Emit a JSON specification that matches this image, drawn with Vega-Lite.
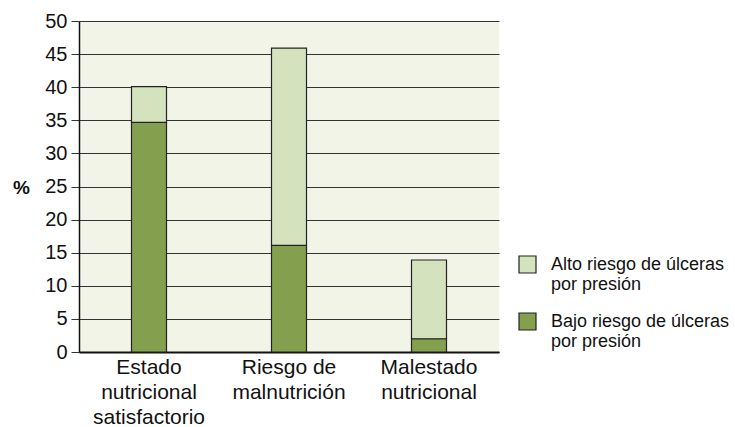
{
  "$schema": "https://vega.github.io/schema/vega-lite/v6.json",
  "width": 420,
  "height": 331,
  "autosize": {"type": "none"},
  "padding": {"left": 79, "top": 21, "right": 236, "bottom": 75},
  "background": "white",
  "config": {
    "font": "Liberation Sans",
    "view": {"stroke": null, "fill": "#F3F4E8"},
    "axisX": {"grid": false}
  },
  "data": {
    "values": [
      {"categoria": "Estado nutricional satisfactorio", "serie": "Bajo riesgo de úlceras por presión", "valor": 34.7},
      {"categoria": "Estado nutricional satisfactorio", "serie": "Alto riesgo de úlceras por presión", "valor": 5.4},
      {"categoria": "Riesgo de malnutrición", "serie": "Bajo riesgo de úlceras por presión", "valor": 16.1},
      {"categoria": "Riesgo de malnutrición", "serie": "Alto riesgo de úlceras por presión", "valor": 29.8},
      {"categoria": "Malestado nutricional", "serie": "Bajo riesgo de úlceras por presión", "valor": 2.0},
      {"categoria": "Malestado nutricional", "serie": "Alto riesgo de úlceras por presión", "valor": 11.9}
    ]
  },
  "mark": {"type": "bar", "stroke": "#222222", "strokeWidth": 1.2},
  "encoding": {
    "x": {
      "field": "categoria",
      "type": "nominal",
      "sort": ["Estado nutricional satisfactorio", "Riesgo de malnutrición", "Malestado nutricional"],
      "scale": {"paddingInner": 0.75, "paddingOuter": 0.375},
      "axis": {
        "title": null,
        "grid": false,
        "labelAngle": 0,
        "labelFontSize": 21,
        "labelColor": "#111111",
        "labelLineHeight": 25,
        "labelPadding": 4,
        "labelBaseline": "top",
        "ticks": false,
        "domainColor": "#111111",
        "domainWidth": 2,
        "labelExpr": "datum.label == 'Estado nutricional satisfactorio' ? ['Estado','nutricional','satisfactorio'] : datum.label == 'Riesgo de malnutrición' ? ['Riesgo de','malnutrición'] : ['Malestado','nutricional']"
      }
    },
    "y": {
      "field": "valor",
      "type": "quantitative",
      "stack": "zero",
      "scale": {"domain": [0, 50], "nice": false},
      "axis": {
        "title": "%",
        "titleAngle": 0,
        "titleFontSize": 19,
        "titleFontWeight": "bold",
        "titleColor": "#111111",
        "titleX": -58,
        "titleY": 166,
        "titleAlign": "center",
        "titleBaseline": "middle",
        "values": [0, 5, 10, 15, 20, 25, 30, 35, 40, 45, 50],
        "labelFontSize": 20,
        "labelColor": "#111111",
        "labelPadding": 4,
        "tickSize": 8,
        "tickColor": "#333333",
        "domainColor": "#111111",
        "domainWidth": 1.5,
        "grid": true,
        "gridColor": "#333333",
        "gridWidth": 1.2
      }
    },
    "color": {
      "field": "serie",
      "type": "nominal",
      "scale": {
        "domain": ["Alto riesgo de úlceras por presión", "Bajo riesgo de úlceras por presión"],
        "range": ["#D5E2BE", "#84A04F"]
      },
      "legend": {
        "title": null,
        "orient": "none",
        "legendX": 439,
        "legendY": 234,
        "symbolType": "square",
        "symbolSize": 289,
        "symbolStrokeColor": "#222222",
        "symbolStrokeWidth": 1.2,
        "symbolOpacity": 1,
        "labelFontSize": 18,
        "labelColor": "#111111",
        "labelLineHeight": 20,
        "labelOffset": 14,
        "labelLimit": 300,
        "rowPadding": 16,
        "labelExpr": "[replace(datum.label, ' por presión', ''), 'por presión']"
      }
    },
    "order": {"field": "serie", "sort": "descending"}
  }
}
